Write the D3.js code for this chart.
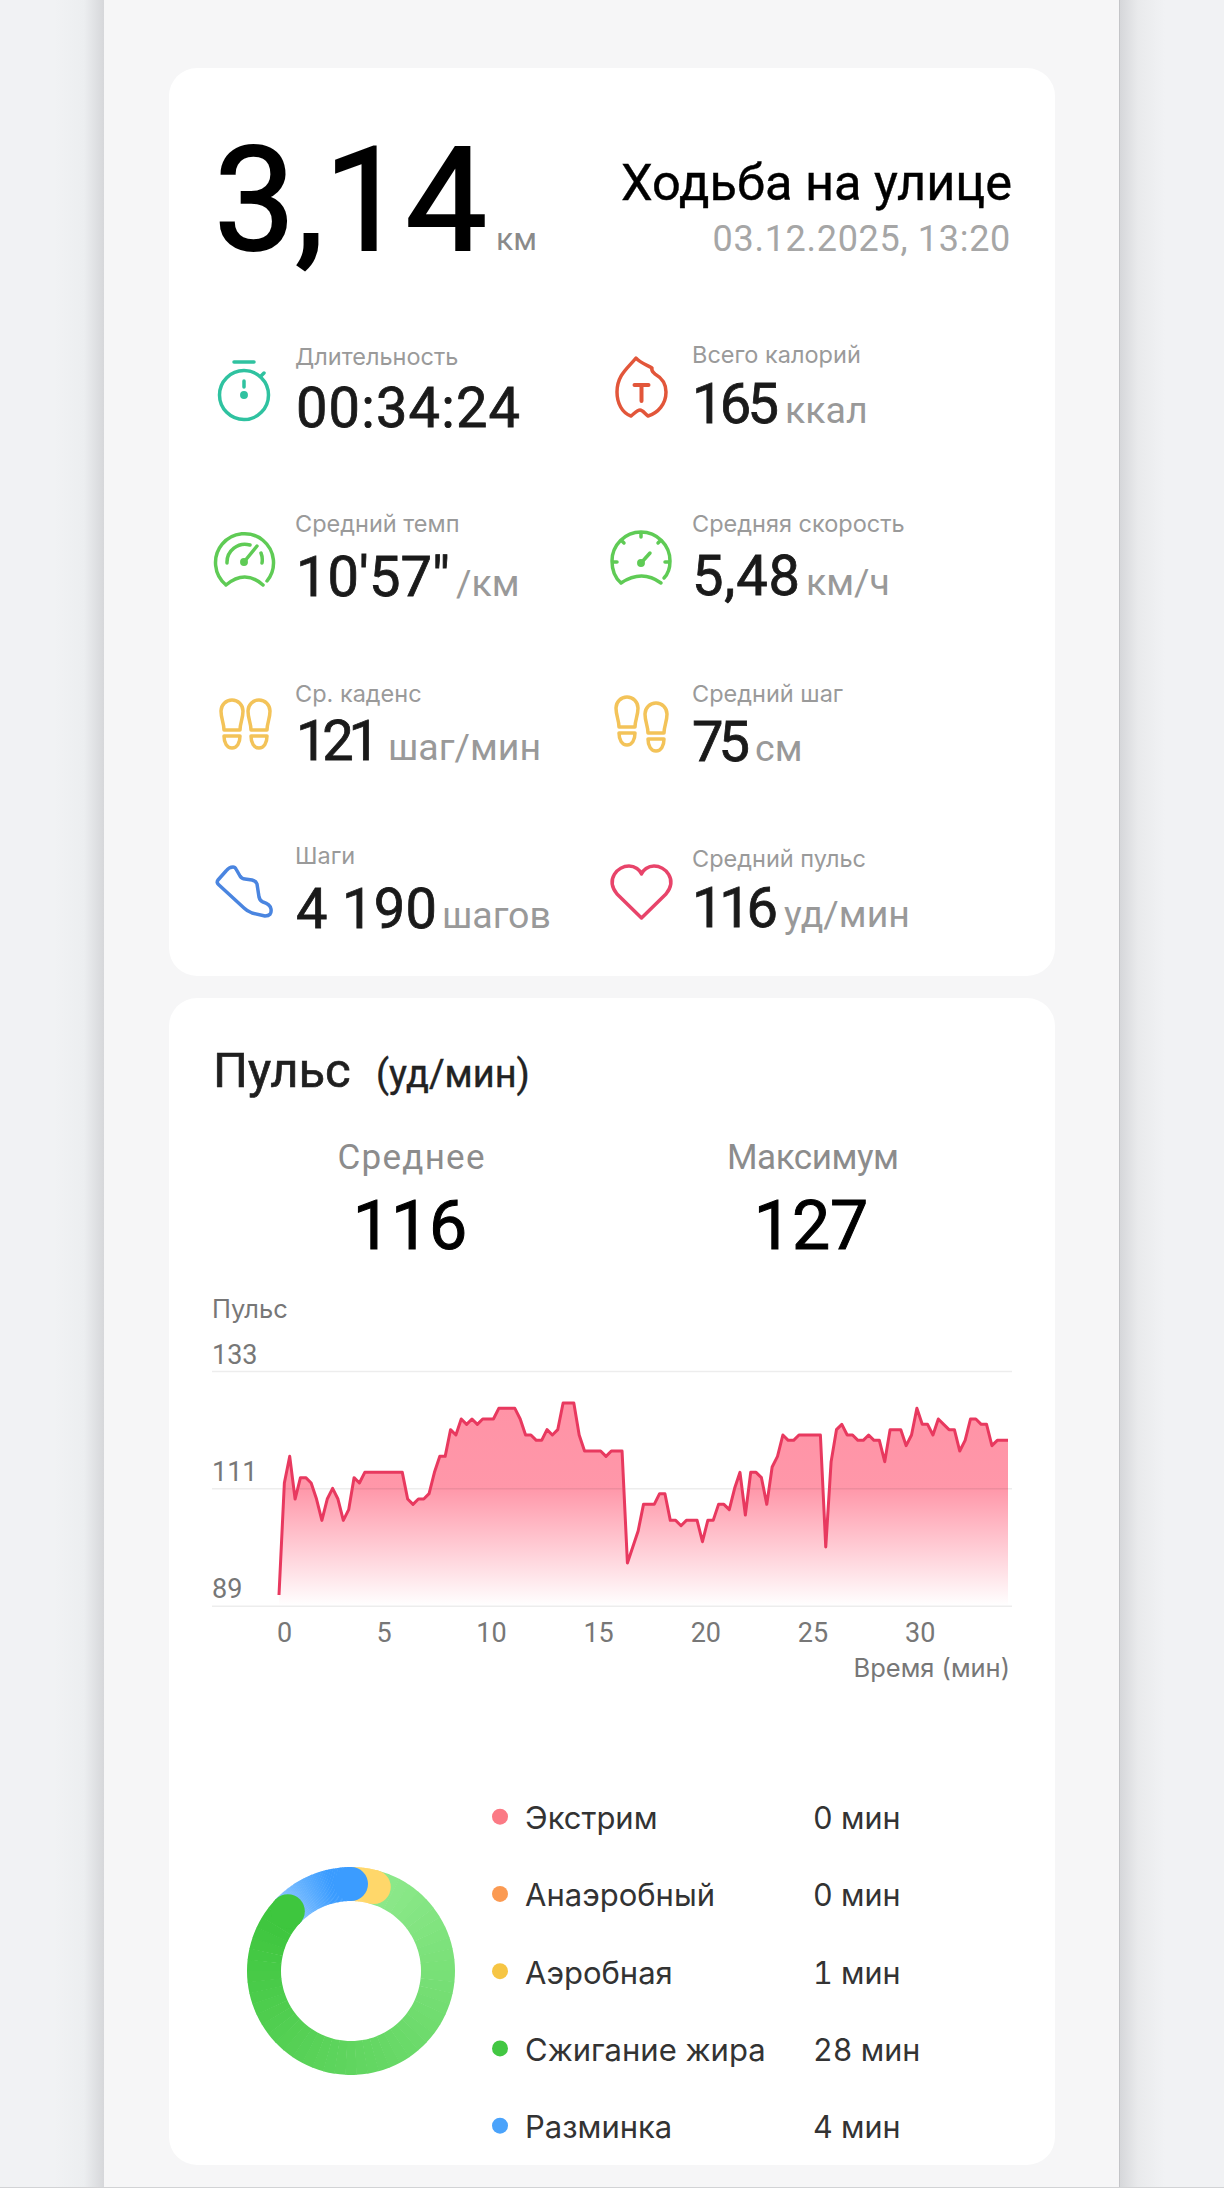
<!DOCTYPE html>
<html lang="ru">
<head>
<meta charset="UTF-8">
<title>Ходьба на улице</title>
<script src="https://d3js.org/d3.v7.min.js"></script>
<style>
    body { margin: 0; background: #f1f2f4; }
    svg { display: block; }
    text { font-family: Roboto, sans-serif; }
    .soft { font-family: Inter, sans-serif; }
    .tabular { font-feature-settings: "tnum"; }
    .icon { fill: none; stroke-linecap: round; stroke-linejoin: round; }
</style>
</head>
<body>
<svg id="page" width="1224" height="2188"></svg>
<script>
// heart rate, one reading every 15 seconds
const heartRate = [
    91, 112, 117, 109, 113, 113, 112, 109, 105, 109, 111, 109, 105, 107, 113, 112,
    114, 114, 114, 114, 114, 114, 114, 114, 109, 108, 109, 109, 110, 114, 117, 117,
    122, 121, 124, 123, 124, 123, 124, 124, 124, 126, 126, 126, 126, 124, 121, 121,
    120, 120, 122, 121, 122, 127, 127, 127, 121, 118, 118, 118, 118, 117, 118, 118,
    118, 97, 100, 103, 108, 108, 108, 110, 110, 105, 105, 104, 105, 105, 105, 101,
    105, 105, 108, 108, 107, 111, 114, 106, 114, 114, 113, 108, 115, 117, 121, 120,
    120, 121, 121, 121, 121, 121, 100, 116, 122, 123, 121, 121, 120, 120, 121, 120,
    120, 116, 122, 122, 122, 119, 121, 126, 123, 123, 121, 124, 123, 122, 122, 118,
    120, 124, 124, 123, 123, 119, 120, 120, 120
];
const sampleMinutes = 0.25;
const xTicks = [0, 5, 10, 15, 20, 25, 30];
const yTicks = [89, 111, 133];

const zoneNames = ["Экстрим", "Анаэробный", "Аэробная", "Сжигание жира", "Разминка"];
const zoneLabels = ["0 мин", "0 мин", "1 мин", "28 мин", "4 мин"];
const zoneColors = ["#fb7a85", "#fb9a52", "#f6c544", "#42c742", "#4aa3fb"];
// length of the three visible ring arcs, in minutes, clockwise from the top
const ringMinutes = [1.45, 28.5, 4.45];

const metricNames = ["Длительность", "Всего калорий", "Средний темп", "Средняя скорость", "Ср. каденс", "Средний шаг", "Шаги", "Средний пульс"];
const metricValues = ["00:34:24", "165", "10'57\"", "5,48", "121", "75", "4 190", "116"];
const metricUnits = ["", "ккал", "/км", "км/ч", "шаг/мин", "см", "шагов", "уд/мин"];

const svg = d3.select("#page");
const defs = svg.append("defs");

function hGradient(id, stops) {
    const g = defs.append("linearGradient").attr("id", id);
    stops.forEach(s => g.append("stop").attr("offset", s[0]).attr("stop-color", s[1]));
}
hGradient("shadeLeft", [[0, "#f1f2f4"], [0.6, "#eceef0"], [1, "#d6d7da"]]);
hGradient("shadeRight", [[0, "#d6d7da"], [0.4, "#e9eaec"], [1, "#f1f2f4"]]);

// page background
svg.append("rect").attr("x", 54).attr("width", 50).attr("height", 2188).attr("fill", "url(#shadeLeft)");
svg.append("rect").attr("x", 1120).attr("width", 45).attr("height", 2188).attr("fill", "url(#shadeRight)");
svg.append("rect").attr("x", 104).attr("width", 1016).attr("height", 2188).attr("fill", "#f6f6f7");
svg.append("rect").attr("x", 1119).attr("width", 1).attr("height", 2188).attr("fill", "#c4c5c8");
svg.append("rect").attr("y", 2187).attr("width", 1224).attr("height", 1).attr("fill", "#d2d3d5");
svg.append("rect").attr("x", 169).attr("y", 68).attr("width", 886).attr("height", 908).attr("rx", 28).attr("fill", "#fff");
svg.append("rect").attr("x", 169).attr("y", 998).attr("width", 886).attr("height", 1167).attr("rx", 28).attr("fill", "#fff");

function label(x, y, str, size, color, anchor, cls) {
    return svg.append("text").attr("x", x).attr("y", y).attr("font-size", size)
        .attr("fill", color).attr("text-anchor", anchor || "start").attr("class", cls || null).text(str);
}
// Roboto regular is a bit too light and medium too heavy for the big numbers
function thicken(sel, w) {
    return sel.attr("stroke", sel.attr("fill")).attr("stroke-width", w);
}

// header
thicken(label(214, 250, "3,14", 145, "#000"), 2);
label(496, 250, "км", 32, "#8a8a8a");
thicken(label(1012, 200, "Ходьба на улице", 50.5, "#000", "end"), 0.4);
label(1011, 251, "03.12.2025, 13:20", 36, "#a6a6a6", "end").attr("letter-spacing", 0.7);

// metric grid
const nameX = [295, 692];
const nameY = [[365, 363], [532, 532], [702, 702], [864, 867]];
const valueX = [296, 692];
const valueY = [[427, 423], [596, 595], [760, 761], [928, 927]];
const valueWidth = [224, 87, 154, 108, 84, 58, 141, 86];
const unitX = [0, 785, 456, 806, 388, 755, 442, 784];
metricNames.forEach((n, i) => {
    const col = i % 2, row = (i - col) / 2;
    label(nameX[col], nameY[row][col], n, 23.5, "#9a9a9a", "start", "soft");
    thicken(label(valueX[col], valueY[row][col], metricValues[i], 56, "#1a1a1a"), 0.8)
        .attr("textLength", valueWidth[i]).attr("lengthAdjust", "spacing");
    if (metricUnits[i]) label(unitX[i], valueY[row][col], metricUnits[i], 37.5, "#999");
});

// icons
function icon(color, width) {
    return svg.append("g").attr("class", "icon").attr("stroke", color).attr("stroke-width", width || 3.5);
}
const watch = icon("#2fc2a0");
watch.append("path").attr("d", "M234,362H254M244,381V387M261,376L264,373");
watch.append("circle").attr("cx", 244).attr("cy", 395).attr("r", 24.5);
watch.append("circle").attr("cx", 244).attr("cy", 395).attr("r", 2.2).attr("fill", "#2fc2a0");

const pace = icon("#5fcb55");
pace.append("path").attr("d", "M226,585A29,29 0 1 1 267,581M226,585Q245,569 263,585M227,563A18,18 0 0 1 250,545M261,553A18,18 0 0 1 262,563M244,562L257,546");
pace.append("circle").attr("cx", 244).attr("cy", 562).attr("r", 2.2).attr("fill", "#5fcb55");

const speed = icon("#5fcb55");
speed.append("path").attr("d", "M621,583C614,577 612,569 612,561C612,545 625,532 641,532C657,532 670,545 670,561C670,568 668,574 664,578M621,583Q642,569 661,583M641,533V537M621,540L624,543M661,540L658,543M613,562H617M669,562H665M641,563L650,553");
speed.append("circle").attr("cx", 641).attr("cy", 563).attr("r", 2.2).attr("fill", "#5fcb55");

const flame = icon("#e2563a");
flame.append("path").attr("d", "M636,358C640,363 647,365 652,368C651,371 653,372 655,374C662,378 666,385 666,392C666,404 658,413 648,416C645,414 643,410 640,410C637,410 634,414 631,416C622,413 617,403 617,392C617,375 628,368 636,358Z");
flame.append("path").attr("d", "M634.5,385H648.5M641.5,385V401").attr("stroke-width", 4);

function foot(cx, top) {
    const f = icon("#f3c359", 3.5);
    f.append("path").attr("d", `M${cx - 11},${top + 11}a11,11 0 0 1 22,0c0,8 -3,12 -3,19h-16c0,-7 -3,-11 -3,-19z`);
    f.append("path").attr("d", `M${cx - 8},${top + 36}h16c0,7 -3,12 -8,12s-8,-5 -8,-12z`);
}
foot(232, 700); foot(259, 700);
foot(627, 697); foot(656, 703);

icon("#4a85e0").append("path").attr("d", "M233,867Q229,867 226,871L218,880Q216,883 219,885L244,908Q247,911 252,913L265,916Q272,916 271,909Q270,904 263,902Q260,901 259,897L257,884Q256,881 252,880L245,879Q242,879 240,876L236,869Q235,867 233,867Z");
icon("#e8446a").append("path").attr("d", "M641.5,918L617,894C605,879 618,866 629,866C635,866 640,870 641.5,874C643,870 648,866 654,866C665,866 678,879 666,894Z");

// pulse header
thicken(label(213, 1087, "Пульс", 49, "#1f1f1f"), 0.7);
thicken(label(376, 1087, "(уд/мин)", 38, "#222"), 0.4);
label(411, 1169, "Среднее", 35, "#8c8c8c", "middle").attr("textLength", 147);
label(813, 1169, "Максимум", 35, "#8c8c8c", "middle").attr("textLength", 172);
thicken(label(410, 1249, "116", 68, "#000", "middle"), 1);
thicken(label(811, 1249, "127", 68, "#000", "middle"), 1);

// pulse chart
const x = d3.scaleLinear().domain([0, 34]).range([279, 1008]);
const y = d3.scaleLinear().domain([89, 133]).range([1605.7, 1371]);
const samples = heartRate.map((v, i) => ({ t: i * sampleMinutes, v: v }));

const fillGrad = defs.append("linearGradient").attr("id", "pulseFill")
    .attr("gradientUnits", "userSpaceOnUse").attr("x1", 0).attr("x2", 0).attr("y1", y(127)).attr("y2", y(89));
[[0, "#ff93a6"], [0.42, "#ff97a9"], [1, "#ffffff"]].forEach(s =>
    fillGrad.append("stop").attr("offset", s[0]).attr("stop-color", s[1]));

svg.append("path").datum(samples).attr("fill", "url(#pulseFill)")
    .attr("d", d3.area().x(d => x(d.t)).y0(y(89)).y1(d => y(d.v)));

const yAxis = svg.append("g").attr("transform", "translate(212,0)")
    .call(d3.axisLeft(y).tickValues(yTicks).tickSize(-800));
yAxis.select(".domain").remove();
yAxis.selectAll("line").attr("stroke", "#000").attr("stroke-opacity", 0.07).attr("stroke-width", 1.5);
yAxis.selectAll("text").attr("x", 0).attr("y", -8).attr("dy", 0).attr("text-anchor", "start")
    .attr("font-size", 27).attr("font-family", "Roboto").attr("fill", "#777");

svg.append("path").datum(samples).attr("fill", "none").attr("stroke", "#e8395f")
    .attr("stroke-width", 3).attr("stroke-linejoin", "round")
    .attr("d", d3.line().x(d => x(d.t)).y(d => y(d.v)));

const xAxis = svg.append("g").attr("transform", "translate(0,1606)")
    .call(d3.axisBottom(x).tickValues(xTicks).tickSize(0));
xAxis.select(".domain").remove();
xAxis.selectAll("text").attr("y", 36).attr("dy", 0).attr("dx", d => d === 0 ? 5 : -2.5)
    .attr("font-size", 27).attr("font-family", "Roboto").attr("fill", "#777");

label(212, 1318, "Пульс", 25.5, "#777", "start", "soft");
label(1010, 1677, "Время (мин)", 25.5, "#777", "end", "soft");

// heart rate zones
const ring = svg.append("g").attr("transform", "translate(351,1971)");
const ringR = 87, ringW = 34;
const pie = d3.pie().sort(null).value(d => d)(ringMinutes);
const arc = d3.arc().innerRadius(ringR - ringW / 2).outerRadius(ringR + ringW / 2);

function capAt(angle, color) {
    ring.append("circle").attr("cx", ringR * Math.sin(angle)).attr("cy", -ringR * Math.cos(angle))
        .attr("r", ringW / 2).attr("fill", color);
}
function ringPiece(slice, from, to, reach) {
    const color = d3.interpolateRgb(from, to);
    const steps = 48, span = slice.endAngle - slice.startAngle;
    d3.range(steps).forEach(k => {
        ring.append("path").attr("fill", color(Math.min(1, k / (steps * reach)))).attr("d", arc({
            startAngle: slice.startAngle + span * k / steps,
            endAngle: slice.startAngle + span * (k + 1) / steps + 0.005
        }));
    });
    capAt(slice.endAngle, to);
}
ringPiece(pie[1], "#8de98b", "#3ec63e", 0.95);
ringPiece(pie[0], "#ffd76a", "#ffd76a", 1);
ringPiece(pie[2], "#8cc6ff", "#3b9cff", 0.7);
// the green end sits on top of the blue start
capAt(pie[1].endAngle, "#3ec63e");

const legendY = d3.scalePoint().domain(zoneNames).range([1816.7, 2125.7]);
zoneNames.forEach((n, i) => {
    svg.append("circle").attr("cx", 500).attr("cy", legendY(n)).attr("r", 8).attr("fill", zoneColors[i]);
    label(525, legendY(n) + 12.5, n, 31, "#333", "start", "soft");
    label(813, legendY(n) + 12.5, zoneLabels[i], 30.5, "#333", "start", "soft tabular");
});
</script>
</body>
</html>
